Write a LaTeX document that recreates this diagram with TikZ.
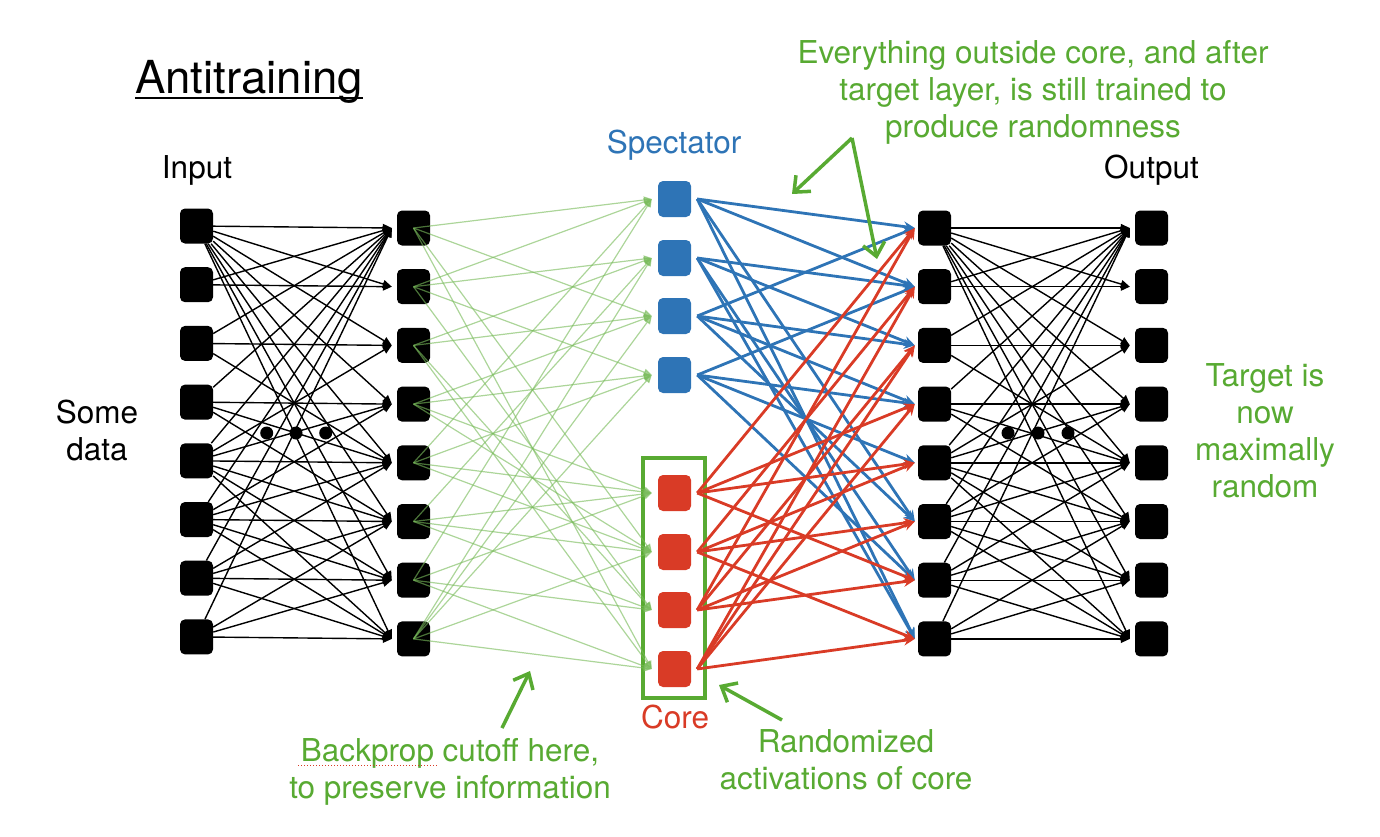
\documentclass[tikz,border=0pt]{standalone}
\usepackage{fontspec}
\setmainfont{TeX Gyre Heros}
\usetikzlibrary{arrows.meta}
\definecolor{ngreen}{RGB}{88,170,50}
\definecolor{nblue}{RGB}{46,116,182}
\definecolor{nred}{RGB}{217,59,38}
\begin{document}
\begin{tikzpicture}[x=1pt,y=-1pt,
  unit/.style={rectangle, rounded corners=5pt, minimum width=33pt, minimum height=35pt, inner sep=0pt, draw=none, fill=black},
  dotnode/.style={circle, fill=black, inner sep=0pt, minimum size=13pt},
  blk/.style={line width=1.4pt, -{Triangle[length=9pt,width=8pt]}},
  gre/.style={draw=ngreen!80, opacity=0.62, line width=1.2pt, -{Triangle[length=8pt,width=7pt]}},
  blu/.style={draw=nblue, line width=2.8pt, -{Stealth[length=11pt,width=10pt]}},
  rdd/.style={draw=nred, line width=2.8pt, -{Stealth[length=11pt,width=10pt]}},
  ann/.style={draw=ngreen, line width=3.5pt, -{Straight Barb[length=13pt,width=22pt]}},
  lbl/.style={font=\fontsize{31.5}{37}\selectfont, align=center, inner sep=0pt, anchor=base},
]
\useasboundingbox (0,0) rectangle (1380,836);

% ---- layers ----
\foreach \i in {1,...,8} {
  \pgfmathsetmacro\ya{226+58.7*(\i-1)}
  \pgfmathsetmacro\yb{228+58.7*(\i-1)}
  \node[unit] (a\i) at (196.5,\ya) {};
  \node[unit] (b\i) at (413.5,\yb) {};
  \node[unit] (d\i) at (934.5,\yb) {};
  \node[unit] (e\i) at (1151.5,\yb) {};
}
\node[unit, fill=nblue, minimum height=36pt] (m1) at (674.5,199) {};
\node[unit, fill=nblue, minimum height=36pt] (m2) at (674.5,258) {};
\node[unit, fill=nblue, minimum height=36pt] (m3) at (674.5,316) {};
\node[unit, fill=nblue, minimum height=36pt] (m4) at (674.5,375) {};
\node[unit, fill=nred, minimum height=36pt] (m5) at (674.5,493) {};
\node[unit, fill=nred, minimum height=36pt] (m6) at (674.5,552) {};
\node[unit, fill=nred, minimum height=36pt] (m7) at (674.5,610) {};
\node[unit, fill=nred, minimum height=36pt] (m8) at (674.5,669) {};

% core box
\node[draw=ngreen, line width=3.3pt, minimum width=62pt, minimum height=240pt, inner sep=0pt] (corebox) at (674,578) {};

% ---- black edges ----
\foreach \s/\t in {1/1,1/2,1/3,1/4,1/5,1/6,1/7,1/8,
  2/1,2/2,
  3/1,3/3,3/5,
  4/1,4/4,4/5,4/6,
  5/1,5/3,5/4,5/5,5/6,5/7,5/8,
  6/1,6/4,6/5,6/6,6/7,6/8,
  7/1,7/5,7/6,7/7,7/8,
  8/1,8/6,8/7,8/8} {
  \draw[blk] (a\s) -- ([xshift=-5pt]b\t.west);
  \draw[blk] (d\s) -- ([xshift=-5pt]e\t.west);
}

% dots
\node[dotnode] (dl1) at (266.7,433) {};
\node[dotnode] (dl2) at (296,433) {};
\node[dotnode] (dl3) at (325.7,433) {};
\node[dotnode] (dr1) at (1008,433) {};
\node[dotnode] (dr2) at (1038,433) {};
\node[dotnode] (dr3) at (1068,433) {};

% ---- green edges ----
\foreach \s/\t in {1/1,1/3,1/6,1/8,
  2/1,2/2,2/4,2/7,
  3/2,3/3,3/7,3/8,
  4/3,4/4,4/5,4/6,
  5/1,5/4,5/5,5/6,
  6/2,6/5,6/6,6/7,
  7/1,7/5,7/7,7/8,
  8/2,8/3,8/4,8/6,8/8} {
  \draw[gre] (b\s.center) -- ([xshift=-6pt]m\t.west);
}

% ---- blue edges ----
\foreach \s/\t in {1/1,1/2,1/6,1/8,
  2/2,2/3,2/7,2/8,
  3/1,3/3,3/4,3/6,
  4/2,4/4,4/5,4/7} {
  \draw[blu] ([xshift=6pt]m\s.east) -- ([xshift=-3pt]d\t.west);
}
% ---- red edges ----
\foreach \s/\t in {5/1,5/4,5/5,5/7,
  6/2,6/5,6/6,6/8,
  7/1,7/3,7/6,7/7,
  8/2,8/3,8/4,8/8} {
  \draw[rdd] ([xshift=6pt]m\s.east) -- ([xshift=-3pt]d\t.west);
}

% ---- labels ----
\node[lbl, font=\fontsize{45.5}{54}\selectfont] (title) at (249,93) {Antitraining};
\draw[line width=2pt] ([yshift=-4.5pt]title.base west) -- ([yshift=-4.5pt]title.base east);
\node[lbl] (inp) at (197,178) {Input};
\node[lbl] (outp) at (1151.5,178) {Output};
\node[lbl, text=nblue] (spec) at (674,153) {Spectator};
\node[lbl, text=nred] (core) at (675,728) {Core};
\node[lbl] (data) at (97,460) {Some\\data};
\node[lbl, text=ngreen] (every) at (1033,137) {Everything outside core, and after\\target layer, is still trained to\\produce randomness};
\node[lbl, text=ngreen] (target) at (1265,497) {Target is\\now\\maximally\\random};
\node[lbl, text=ngreen] (backprop) at (450,798) {Backprop cutoff here,\\to preserve information};
\node[lbl, text=ngreen] (rand) at (846,789) {Randomized\\activations of core};
\draw[nred, dotted, line width=1pt] (298,765.5) -- (437,765.5);

% ---- annotation arrows ----
\coordinate (apex) at (852,138);
\coordinate (tipA) at (792,194);
\coordinate (tipB) at (877,259);
\coordinate (bpTail) at (502,728);
\coordinate (bpTip) at (530,671);
\coordinate (rdTail) at (782,720);
\coordinate (rdTip) at (719,685);
\draw[ann] (apex) -- (tipA);
\draw[ann] (apex) -- (tipB);
\draw[ann] (bpTail) -- (bpTip);
\draw[ann] (rdTail) -- (rdTip);
\end{tikzpicture}
\end{document}
